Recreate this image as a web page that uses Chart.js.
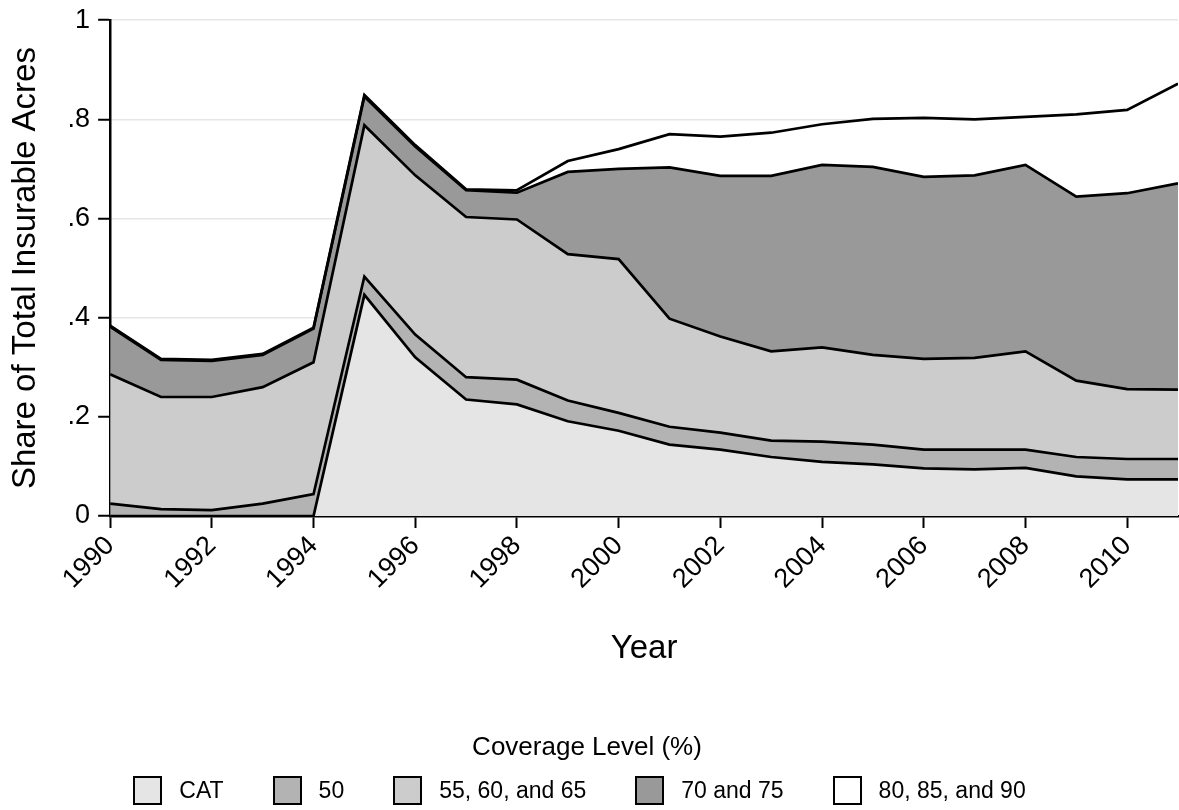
<!DOCTYPE html>
<html>
<head>
<meta charset="utf-8">
<title>Coverage level shares</title>
<script src="https://cdn.jsdelivr.net/npm/chart.js@4.4.1/dist/chart.umd.min.js"></script>
<style>
  html, body { margin: 0; padding: 0; background: #fff; }
  #wrap { width: 1179px; height: 810px; position: relative;
          font-family: 'Liberation Sans', Arial, Helvetica, sans-serif; color: #000; }
  #legend { position: absolute; left: 0; right: 0; top: 731px; text-align: center; }
  #legend .title { font-size: 26px; line-height: 30px; margin-left: -5px; }
  #legend .items { display: flex; justify-content: center; gap: 49px; margin-top: 14px; margin-left: -20px; }
  #legend .item { display: flex; align-items: center; font-size: 23px; height: 30px; }
  #legend .box { width: 25px; height: 25px; border: 2.5px solid #000; margin-right: 17px; }
</style>
</head>
<body>
<div id="wrap">
  <canvas id="areaChart"></canvas>
  <div id="legend"><div class="title">Coverage Level (%)</div><div class="items"></div></div>
</div>
<script>
// Anos e participação de cada nível de cobertura (área segurável total)
const years = [1990, 1991, 1992, 1993, 1994, 1995, 1996, 1997, 1998, 1999, 2000,
               2001, 2002, 2003, 2004, 2005, 2006, 2007, 2008, 2009, 2010, 2011];

const catShare     = [0, 0, 0, 0, 0, 0.446, 0.320, 0.235, 0.225, 0.191, 0.172,
                      0.144, 0.134, 0.119, 0.109, 0.104, 0.096, 0.094, 0.097, 0.080, 0.074, 0.074];
const share50      = [0.025, 0.014, 0.012, 0.025, 0.044, 0.037, 0.046, 0.045, 0.050, 0.042, 0.036,
                      0.036, 0.034, 0.033, 0.041, 0.040, 0.038, 0.040, 0.037, 0.039, 0.041, 0.041];
const share55to65  = [0.261, 0.226, 0.228, 0.235, 0.266, 0.305, 0.321, 0.323, 0.323, 0.295, 0.310,
                      0.218, 0.194, 0.180, 0.190, 0.181, 0.183, 0.185, 0.198, 0.154, 0.141, 0.140];
const share70to75  = [0.096, 0.075, 0.073, 0.065, 0.068, 0.058, 0.058, 0.054, 0.054, 0.166, 0.182,
                      0.305, 0.324, 0.354, 0.368, 0.379, 0.367, 0.368, 0.376, 0.371, 0.395, 0.416];
const share80to90  = [0.002, 0.002, 0.002, 0.002, 0.002, 0.003, 0.003, 0.002, 0.005, 0.022, 0.040,
                      0.067, 0.079, 0.087, 0.082, 0.097, 0.119, 0.113, 0.097, 0.166, 0.168, 0.201];

const seriesNames = ['CAT', '50', '55, 60, and 65', '70 and 75', '80, 85, and 90'];
const seriesFills = ['#e5e5e5', '#b3b3b3', '#cccccc', '#999999', '#ffffff'];

const xTickYears = [1990, 1992, 1994, 1996, 1998, 2000, 2002, 2004, 2006, 2008, 2010];
const yTickValues = [0, 0.2, 0.4, 0.6, 0.8, 1];
const yTickLabels = ['0', '.2', '.4', '.6', '.8', '1'];

Chart.defaults.font.family = "'Liberation Sans', Arial, Helvetica, sans-serif";
Chart.defaults.color = '#000';

// Monta os datasets empilhados a partir dos arrays acima
const allSeries = [catShare, share50, share55to65, share70to75, share80to90];
const datasets = allSeries.map((values, i) => ({
  label: seriesNames[i],
  data: values.map((v, j) => ({ x: years[j], y: v })),
  backgroundColor: seriesFills[i],
  borderColor: '#000',
  borderWidth: 2.7,
  pointRadius: 0,
  tension: 0,
  fill: i === 0 ? 'origin' : '-1'
}));

const ctx = document.getElementById('areaChart').getContext('2d');
new Chart(ctx, {
  type: 'line',
  data: { datasets },
  options: {
    responsive: true,
    maintainAspectRatio: false,
    animation: false,
    layout: { padding: { left: 5, right: 1, top: 0, bottom: 135 } },
    plugins: {
      filler: { drawTime: 'beforeDatasetsDraw' },
      tooltip: { enabled: false },
      legend: { display: false }
    },
    scales: {
      x: {
        type: 'linear',
        min: 1990,
        max: 2011,
        afterBuildTicks: axis => { axis.ticks = xTickYears.map(v => ({ value: v })); },
        ticks: {
          minRotation: 45,
          maxRotation: 45,
          padding: 2,
          font: { size: 27 },
          callback: v => String(v)
        },
        grid: { drawOnChartArea: false, tickLength: 12, tickColor: '#000', tickWidth: 2 },
        border: { color: '#000', width: 2.5 },
        title: {
          display: true,
          text: 'Year',
          font: { size: 33 },
          padding: { top: 32, bottom: 6 }
        }
      },
      y: {
        stacked: true,
        min: 0,
        max: 1,
        afterBuildTicks: axis => { axis.ticks = yTickValues.map(v => ({ value: v })); },
        ticks: {
          padding: 8,
          font: { size: 27, lineHeight: 0.9 },
          callback: v => yTickLabels[yTickValues.findIndex(t => Math.abs(t - v) < 1e-9)]
        },
        grid: { color: '#e6e6e6', lineWidth: 1.5, tickLength: 12, tickColor: '#000', tickWidth: 2 },
        border: { color: '#000', width: 2.5 },
        title: {
          display: true,
          text: 'Share of Total Insurable Acres',
          font: { size: 33 },
          padding: { top: 1, bottom: 14 }
        }
      }
    }
  }
});

// Legenda em HTML (mesmas cores e nomes das séries)
const legendItems = document.querySelector('#legend .items');
seriesNames.forEach((name, i) => {
  const item = document.createElement('div');
  item.className = 'item';
  const box = document.createElement('span');
  box.className = 'box';
  box.style.background = seriesFills[i];
  const text = document.createElement('span');
  text.textContent = name;
  item.appendChild(box);
  item.appendChild(text);
  legendItems.appendChild(item);
});
</script>
</body>
</html>
